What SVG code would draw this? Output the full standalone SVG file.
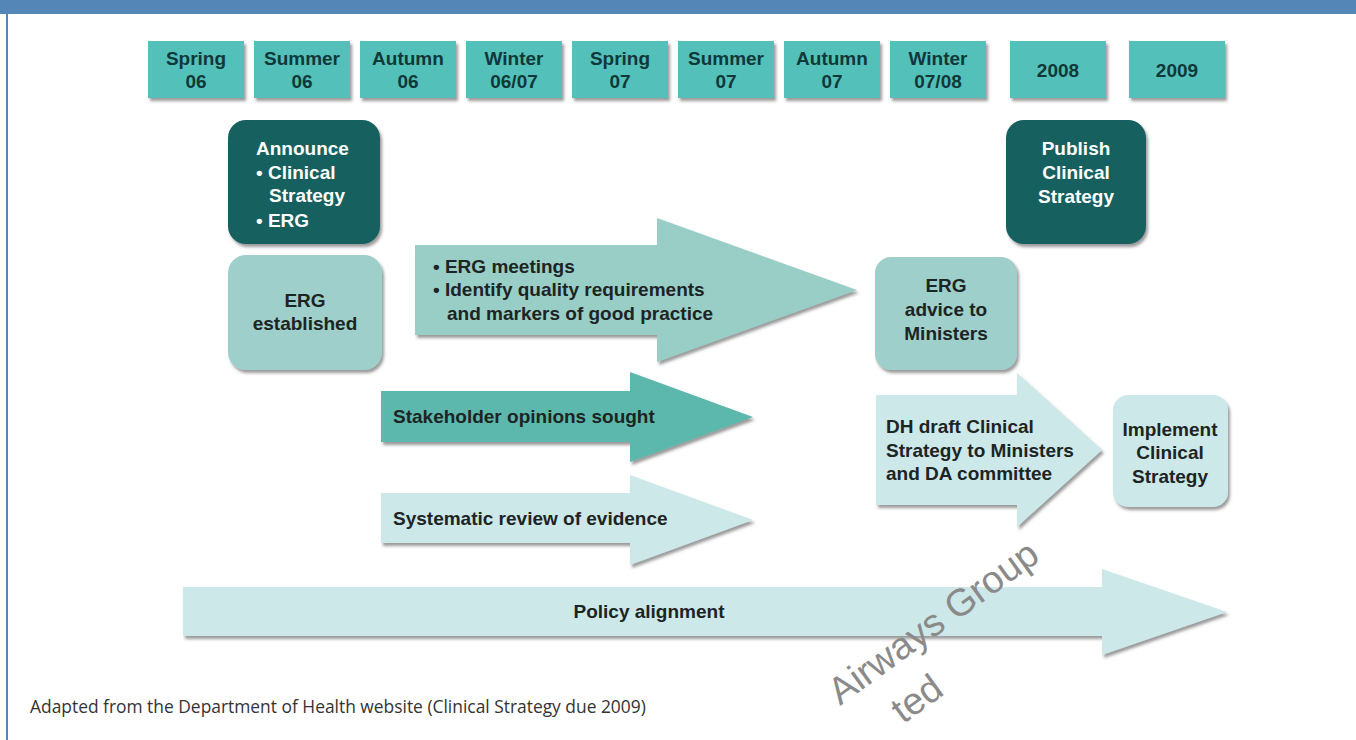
<svg xmlns="http://www.w3.org/2000/svg" width="1356" height="740" viewBox="0 0 1356 740">
  <defs>
    <filter id="shadow" x="-10%" y="-10%" width="125%" height="130%">
      <feDropShadow dx="2" dy="3" stdDeviation="1.6" flood-color="#4a4a4a" flood-opacity="0.55"/>
    </filter>
  </defs>
  <style>
    text { font-family: "Liberation Sans", Arial, sans-serif; }
    .lbl { font-size: 19px; font-weight: bold; fill: #1c2424; }
    .season { font-size: 19px; font-weight: bold; fill: #103838; text-anchor: middle; }
    .white { font-size: 19px; font-weight: bold; fill: #ffffff; }
    .mid { text-anchor: middle; }
    .season-box { fill: #52c1ba; filter: url(#shadow); }
    .dark { fill: #12605e; filter: url(#shadow); }
    .pale { fill: #9fcfca; filter: url(#shadow); }
    .mint { fill: #99cec7; filter: url(#shadow); }
    .teal { fill: #5cb8ac; filter: url(#shadow); }
    .ice { fill: #cde8e9; filter: url(#shadow); }
    .caption { font-family: "Open Sans", "Liberation Sans", sans-serif; font-size: 17.4px; fill: #333333; }
    .mark { font-family: "Liberation Sans", Arial, sans-serif; font-size: 38px; fill: #8a8a8a; }
  </style>

  <!-- page frame -->
  <rect x="0" y="0" width="1356" height="14" fill="#5486b7"/>
  <rect x="6" y="14" width="2" height="726" fill="#5486b7"/>

  <!-- timeline headings -->
  <g id="spring-06"><rect class="season-box" x="148" y="41" width="96" height="57"/><text class="season" x="196" y="65">Spring</text><text class="season" x="196" y="88">06</text></g>
  <g id="summer-06"><rect class="season-box" x="254" y="41" width="96" height="57"/><text class="season" x="302" y="65">Summer</text><text class="season" x="302" y="88">06</text></g>
  <g id="autumn-06"><rect class="season-box" x="360" y="41" width="96" height="57"/><text class="season" x="408" y="65">Autumn</text><text class="season" x="408" y="88">06</text></g>
  <g id="winter-06-07"><rect class="season-box" x="466" y="41" width="96" height="57"/><text class="season" x="514" y="65">Winter</text><text class="season" x="514" y="88">06/07</text></g>
  <g id="spring-07"><rect class="season-box" x="572" y="41" width="96" height="57"/><text class="season" x="620" y="65">Spring</text><text class="season" x="620" y="88">07</text></g>
  <g id="summer-07"><rect class="season-box" x="678" y="41" width="96" height="57"/><text class="season" x="726" y="65">Summer</text><text class="season" x="726" y="88">07</text></g>
  <g id="autumn-07"><rect class="season-box" x="784" y="41" width="96" height="57"/><text class="season" x="832" y="65">Autumn</text><text class="season" x="832" y="88">07</text></g>
  <g id="winter-07-08"><rect class="season-box" x="890" y="41" width="96" height="57"/><text class="season" x="938" y="65">Winter</text><text class="season" x="938" y="88">07/08</text></g>
  <g id="year-2008"><rect class="season-box" x="1010" y="41" width="96" height="57"/><text class="season" x="1058" y="77">2008</text></g>
  <g id="year-2009"><rect class="season-box" x="1129" y="41" width="96" height="57"/><text class="season" x="1177" y="77">2009</text></g>

  <!-- milestones -->
  <g id="announce">
    <rect class="dark" x="228" y="120" width="152" height="124" rx="18"/>
    <text class="white" x="256" y="155">Announce</text>
    <text class="white" x="256" y="179">• Clinical</text>
    <text class="white" x="269" y="202">Strategy</text>
    <text class="white" x="256" y="227">• ERG</text>
  </g>
  <g id="erg-established">
    <rect class="pale" x="228" y="255" width="154" height="115" rx="18"/>
    <text class="lbl mid" x="305" y="307">ERG</text>
    <text class="lbl mid" x="305" y="330">established</text>
  </g>
  <g id="publish">
    <rect class="dark" x="1006" y="120" width="140" height="124" rx="18"/>
    <text class="white mid" x="1076" y="155">Publish</text>
    <text class="white mid" x="1076" y="179">Clinical</text>
    <text class="white mid" x="1076" y="203">Strategy</text>
  </g>
  <g id="erg-advice">
    <rect class="pale" x="875" y="257" width="142" height="113" rx="16"/>
    <text class="lbl mid" x="946" y="292">ERG</text>
    <text class="lbl mid" x="946" y="316">advice to</text>
    <text class="lbl mid" x="946" y="340">Ministers</text>
  </g>
  <g id="implement">
    <rect class="ice" x="1113" y="395" width="115" height="112" rx="15"/>
    <text class="lbl mid" x="1170" y="436">Implement</text>
    <text class="lbl mid" x="1170" y="459">Clinical</text>
    <text class="lbl mid" x="1170" y="483">Strategy</text>
  </g>

  <!-- block arrows -->
  <g id="erg-meetings">
    <polygon class="mint" points="415,245 657,245 657,218 857,290 657,362 657,335 415,335"/>
    <text class="lbl" x="433" y="273">• ERG meetings</text>
    <text class="lbl" x="433" y="296">• Identify quality requirements</text>
    <text class="lbl" x="447" y="320">and markers of good practice</text>
  </g>
  <g id="stakeholder">
    <polygon class="teal" points="381,391 630,391 630,372 753,417 630,462 630,442 381,442"/>
    <text class="lbl" x="393" y="423">Stakeholder opinions sought</text>
  </g>
  <g id="systematic-review">
    <polygon class="ice" points="381,493 630,493 630,475 753,520 630,565 630,543 381,543"/>
    <text class="lbl" x="393" y="525">Systematic review of evidence</text>
  </g>
  <g id="dh-draft">
    <polygon class="ice" points="876,395 1017,395 1017,373 1102,450 1017,527 1017,505 876,505"/>
    <text class="lbl" x="886" y="433">DH draft Clinical</text>
    <text class="lbl" x="886" y="457">Strategy to Ministers</text>
    <text class="lbl" x="886" y="480">and DA committee</text>
  </g>
  <g id="policy-alignment">
    <polygon class="ice" points="183,587 1102,587 1102,569 1227,612 1102,655 1102,636 183,636"/>
    <text class="lbl mid" x="649" y="618">Policy alignment</text>
  </g>

  <!-- source note -->
  <text class="caption" x="30" y="713">Adapted from the Department of Health website (Clinical Strategy due 2009)</text>

  <!-- watermark -->
  <g transform="translate(840,706) rotate(-36)">
    <text class="mark" x="0" y="0">Airways Group</text>
    <text class="mark" x="40" y="52">ted</text>
  </g>
</svg>
